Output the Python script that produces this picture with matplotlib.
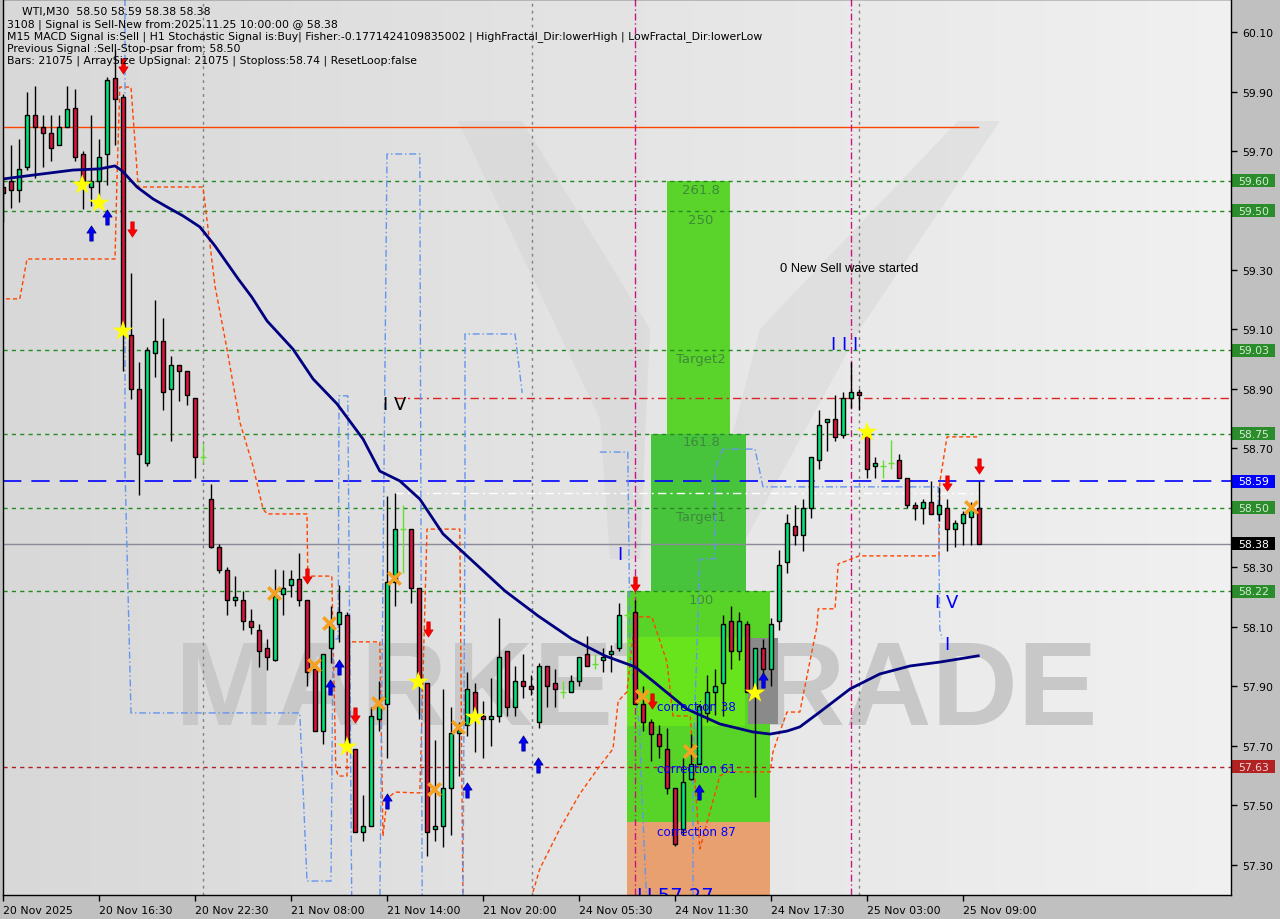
import matplotlib
matplotlib.use('Agg')
import matplotlib.pyplot as plt
import numpy as np
from matplotlib.path import Path
from matplotlib.patches import Rectangle, Polygon

# ---------------- data ----------------
opens = [59.58,59.60,59.57,59.645,59.82,59.78,59.76,59.72,59.78,59.845,59.69,59.58,59.60,59.69,59.945,59.88,59.08,58.90,58.65,59.02,
         59.06,58.90,58.98,58.96,58.87,58.67,58.53,58.37,58.29,58.19,58.19,58.12,58.09,58.03,57.99,58.21,58.24,58.26,58.19,57.96,
         57.75,58.03,58.11,58.14,57.69,57.41,57.43,57.79,57.84,58.25,58.43,58.43,58.23,57.91,57.42,57.43,57.56,57.745,57.77,57.88,
         57.80,57.79,57.80,58.02,57.83,57.92,57.90,57.78,57.97,57.91,57.88,57.88,57.92,58.01,57.975,57.99,58.01,58.03,58.14,58.15,
         57.84,57.78,57.74,57.69,57.56,57.42,57.59,57.64,57.81,57.88,57.91,58.12,58.02,58.11,57.88,58.03,57.96,58.12,58.32,58.44,
         58.41,58.50,58.66,58.79,58.80,58.745,58.87,58.89,58.765,58.64,58.64,58.65,58.66,58.60,58.51,58.50,58.52,58.48,58.50,58.43,
         58.45,58.47,58.50]
highs = [59.67,59.72,59.74,59.90,59.92,59.82,59.82,59.82,59.92,59.91,59.70,59.82,59.74,59.95,60.04,59.89,59.29,58.99,59.04,59.20,
         59.14,59.01,58.98,58.96,58.87,58.72,58.58,58.38,58.30,58.27,58.22,58.16,58.11,58.06,58.295,58.29,58.29,58.35,58.19,57.96,
         58.01,58.17,58.24,58.15,57.69,57.535,57.83,57.92,58.54,58.55,58.51,58.43,58.23,57.91,57.72,57.89,57.83,57.78,57.95,57.91,
         57.85,57.93,58.13,58.02,57.97,58.01,57.94,57.98,57.97,57.96,57.92,57.94,58.00,58.07,58.01,58.03,58.04,58.18,58.15,58.19,
         57.90,57.79,57.77,57.76,57.56,57.66,57.74,57.84,57.94,57.96,58.14,58.17,58.15,58.12,58.03,58.06,58.13,58.36,58.48,58.51,
         58.53,58.67,58.83,58.80,58.88,58.89,58.99,58.90,58.77,58.67,58.66,58.73,58.68,58.60,58.52,58.53,58.59,58.57,58.53,58.46,
         58.49,58.52,58.59]
lows = [59.46,59.51,59.53,59.635,59.61,59.645,59.665,59.72,59.78,59.665,59.505,59.515,59.55,59.585,59.72,58.96,58.865,58.545,58.64,58.94,
        58.83,58.725,58.86,58.845,58.60,58.65,58.365,58.28,58.14,58.17,58.09,58.075,57.965,57.955,57.985,58.14,58.20,58.17,57.90,57.75,
        57.705,57.98,58.05,57.69,57.41,57.38,57.43,57.75,57.66,58.17,58.28,58.18,57.79,57.33,57.38,57.36,57.40,57.60,57.735,57.68,
        57.66,57.70,57.78,57.80,57.80,57.86,57.87,57.76,57.83,57.83,57.86,57.88,57.90,57.97,57.96,57.95,57.95,58.02,58.13,57.84,
        57.75,57.65,57.66,57.54,57.365,57.40,57.585,57.64,57.78,57.805,57.80,57.96,57.99,57.88,57.53,57.91,57.90,58.09,58.28,58.375,
        58.355,58.465,58.63,58.69,58.725,58.735,58.835,58.83,58.60,58.60,58.60,58.63,58.60,58.50,58.46,58.445,58.48,58.455,58.355,58.37,
        58.375,58.375,58.38]
closes = [59.56,59.57,59.64,59.82,59.78,59.76,59.71,59.78,59.84,59.68,59.595,59.60,59.68,59.94,59.875,59.105,58.90,58.68,59.03,59.06,
          58.89,58.98,58.96,58.88,58.67,58.67,58.37,58.29,58.19,58.20,58.12,58.10,58.02,58.00,58.205,58.23,58.26,58.19,57.95,57.75,
          58.01,58.105,58.15,57.70,57.41,57.43,57.80,57.84,58.25,58.43,58.43,58.23,57.91,57.41,57.43,57.56,57.745,57.755,57.89,57.79,
          57.79,57.80,58.00,57.83,57.92,57.90,57.89,57.97,57.90,57.89,57.88,57.92,58.00,57.97,57.975,58.00,58.02,58.14,58.14,57.84,
          57.78,57.74,57.70,57.56,57.37,57.58,57.64,57.835,57.88,57.90,58.11,58.02,58.12,57.88,58.03,57.96,58.11,58.31,58.45,58.41,
          58.50,58.67,58.78,58.80,58.74,58.87,58.89,58.88,58.63,58.65,58.64,58.65,58.60,58.51,58.50,58.52,58.48,58.51,58.43,58.45,
          58.48,58.50,58.38]

time_labels = ["20 Nov 2025", "20 Nov 16:30", "20 Nov 22:30", "21 Nov 08:00", "21 Nov 14:00", "21 Nov 20:00",
               "24 Nov 05:30", "24 Nov 11:30", "24 Nov 17:30", "25 Nov 03:00", "25 Nov 09:00"]
price_ticks = [60.10, 59.90, 59.70, 59.30, 59.10, 58.90, 58.70, 58.30, 58.10, 57.90, 57.70, 57.50, 57.30]

# moving average (bar index, price)
ma_x = [0,3.75,8.75,12.1,14,14.9,16.75,18.75,20.5,22.5,24.6,26.5,29.4,31.1,33,36.25,38.75,41.75,45,47.1,49.6,52.1,55,57.75,
        62.75,66.9,71.1,75.25,79,81.25,85.5,89.6,93.75,95.9,98,99.6,102.1,105.9,109.6,113.4,117.1,121.9]
ma_y = [59.606,59.619,59.636,59.640,59.650,59.633,59.579,59.539,59.512,59.482,59.445,59.381,59.270,59.209,59.129,59.034,58.934,
        58.850,58.732,58.624,58.591,58.530,58.413,58.345,58.221,58.137,58.060,58.003,57.966,57.918,57.824,57.774,57.747,57.740,
        57.750,57.764,57.814,57.892,57.942,57.969,57.982,58.003]

# stop / psar step line (orange dashed)
sar1_x = [-1,2.1,3,14,14.25,14.6,16,16.9,25,26.5,28,29.6,31.25,32.5,33,38,38.1,41.1,41.6,41.9,43,43.1,47.1,47.5,48,49,52.1,53,57.1,57.5]
sar1_y = [59.203,59.203,59.337,59.337,59.606,59.915,59.915,59.579,59.579,59.246,59.034,58.789,58.641,58.497,58.480,58.480,58.271,
          58.271,57.623,57.599,57.599,58.050,58.050,57.397,57.522,57.545,57.542,58.429,58.429,57.15]
sar2_x = [66.25,67.1,69.6,72.1,74.6,76.25,76.9,78,79,81.1,83,83.75,85.9,87.1,89.6,90.5,95.9,96.25,97.1,98,99.6,101.75,101.9,104,
          104.4,106.1,107,117,117.1,118,121.9]
sar2_y = [57.209,57.287,57.421,57.539,57.633,57.690,57.851,57.882,58.134,58.134,57.982,57.801,57.801,57.354,57.599,57.613,57.613,
          57.680,57.747,57.814,57.814,58.103,58.161,58.161,58.312,58.329,58.339,58.339,58.587,58.739,58.739]

# envelope lines (light blue dash-dot)
env1_x = [15.25,15.25,16,37.1,38,41,41.25,41.9,42,43.1,43.6]
env1_y = [60.25,58.631,57.811,57.811,57.246,57.246,58.060,58.060,58.877,58.877,57.15]
env2_x = [47.1,48,52.1,52.4]
env2_y = [57.15,59.690,59.690,57.15]
env3_x = [57.5,57.75,57.75,64,64.9]
env3_y = [57.15,58.497,59.085,59.085,58.887]
env4_x = [74.6,78.1,78.4,79.6,79.9,80.5]
env4_y = [58.688,58.688,57.992,57.757,57.512,57.15]
env5_x = [86.25,86.25,87.1,89,89,90,94,95,116.9,117.1,117.4]
env5_y = [57.15,57.633,58.329,58.329,58.631,58.698,58.698,58.571,58.571,58.093,58.06]

# signal markers
buy_x = [11,13,40.9,42,48,58,65,66.9,87,95]
buy_y = [59.424,59.478,57.898,57.966,57.515,57.552,57.710,57.636,57.545,57.922]
sell_x = [15,16.1,38,44,53.1,79,81.1,118,122]
sell_y = [59.986,59.438,58.271,57.804,58.093,58.245,57.851,58.584,58.641]
star_x = [9.9,12,15,43,51.9,59,94,108]
star_y = [59.586,59.525,59.095,57.697,57.915,57.797,57.878,58.755]
cross_x = [33.9,38.9,40.75,46.9,48.9,53.9,56.9,79.9,85.9,121]
cross_y = [58.214,57.972,58.113,57.845,58.265,57.555,57.763,57.868,57.683,58.503]

green_levels = [59.60, 59.50, 59.03, 58.75, 58.50, 58.22]
red_level = 57.63
orange_level = 59.78
blue_level = 58.59
bid_level = 58.38
dashdot_level = 58.87
white_level = 58.55

# fibo zones (x0, x1, top, bottom)
zone_top = (83, 90.9, 59.60, 58.75)
zone_mid = (81, 92.9, 58.75, 58.22)
zone_low = (78, 95.9, 58.22, 57.445)
zone_low_hi = (78, 92.75, 58.066, 57.767)
zone_grey = (93.1, 96.9, 58.063, 57.774)
zone_corr = (78, 95.9, 57.445, 57.10)
fib_labels = ["261.8", "250", "Target2", "161.8", "Target1", "100"]
fib_label_y = [59.572, 59.471, 59.001, 58.722, 58.470, 58.194]
corr_labels = ["correction 38", "correction 61", "correction 87"]
corr_label_y = [57.834, 57.623, 57.414]

axis_boxes = [(59.60, '#2a8c2a', '#d4ecd4'), (59.50, '#2a8c2a', '#d4ecd4'), (59.03, '#2a8c2a', '#d4ecd4'),
              (58.75, '#2a8c2a', '#d4ecd4'), (58.59, '#0000ff', '#ffffff'), (58.50, '#2a8c2a', '#d4ecd4'),
              (58.38, '#000000', '#ffffff'), (58.22, '#2a8c2a', '#d4ecd4'), (57.63, '#b22222', '#f0d8d8')]

header = ["WTI,M30  58.50 58.59 58.38 58.38",
          "3108 | Signal is Sell-New from:2025.11.25 10:00:00 @ 58.38",
          "M15 MACD Signal is:Sell | H1 Stochastic Signal is:Buy| Fisher:-0.1771424109835002 | HighFractal_Dir:lowerHigh | LowFractal_Dir:lowerLow",
          "Previous Signal :Sell-Stop-psar from: 58.50",
          "Bars: 21075 | ArraySize UpSignal: 21075 | Stoploss:58.74 | ResetLoop:false"]

# ---------------- figure ----------------
W, H = 1280, 920
L_PX, R_PX, B_PX = 2.5, 1231, 896
fig = plt.figure(figsize=(W/100, H/100), dpi=100, facecolor='#c0c0c0')
ax = fig.add_axes([L_PX/W, (H-B_PX)/H, (R_PX-L_PX)/W, B_PX/H])
XMIN, XMAX = -0.0625, 153.5
YMIN, YMAX = 57.199, 60.211

# background gradient
grad = np.linspace(0.845, 0.94, 256)[None, :]
grad = np.repeat(grad, 2, axis=0)
ax.imshow(grad, extent=[XMIN, XMAX, YMIN, YMAX], aspect='auto', cmap='gray', vmin=0, vmax=1,
          zorder=0, interpolation='bilinear')
ax.set_xlim(XMIN, XMAX)
ax.set_ylim(YMIN, YMAX)

def axp(px, py):
    return ((px - L_PX) / (R_PX - L_PX), 1 - py / B_PX)

# faint M logo
logo_polys = [
    [(458,122),(522,122),(650,330),(640,560),(610,560),(600,420)],
    [(1000,122),(958,122),(760,330),(700,560),(735,560),(860,330)],
]
for poly in logo_polys:
    ax.add_patch(Polygon([axp(*p) for p in poly], closed=True, transform=ax.transAxes,
                         fc='#c8c8c8', ec='none', alpha=0.28, zorder=0.5))

# watermark text
ax.text(axp(175, 725)[0], axp(175, 725)[1], "MARKETTRADE", transform=ax.transAxes, fontsize=86,
        family='Liberation Sans', weight='bold', color='#c8c8c8', ha='left', va='baseline', zorder=0.6)

# fibo zones
def zone(z, color, zo=1):
    x0, x1, t, b = z
    ax.add_patch(Rectangle((x0, b), x1 - x0, t - b, fc=color, ec='none', zorder=zo))
zone(zone_top, '#5ad42a')
zone(zone_mid, '#48c43c')
zone(zone_low, '#58d428')
zone(zone_low_hi, '#68e41c', 1.1)
zone(zone_grey, '#8a8a8a', 1.2)
zone(zone_corr, '#e8a070')

for t, yv in zip(fib_labels, fib_label_y):
    ax.text(87.25, yv, t, color='#3c8a3c', fontsize=9.5, ha='center', va='center', zorder=1.5)
for t, yv in zip(corr_labels, corr_label_y):
    ax.text(81.75, yv, t, color='#0000ff', fontsize=8.6, ha='left', va='center', zorder=9)
ll = ax.text(79.2, 57.229, "LL57.27", color='#0000ff', fontsize=14, ha='left', va='top', zorder=9)
ll.set_clip_on(True)
ll.set_clip_box(ax.bbox)

# level lines
for lv in green_levels:
    ax.axhline(lv, color='#228b22', lw=1, ls=(0, (3, 3)), zorder=2)
ax.axhline(red_level, color='#b22222', lw=1, ls=(0, (3, 3)), zorder=2)
ax.plot([XMIN, 121.9], [orange_level]*2, color='#ff4500', lw=1, zorder=2)
ax.axhline(blue_level, color='#0000ff', lw=1.2, ls=(0, (11, 6)), zorder=2)
ax.axhline(bid_level, color='#8a8a9a', lw=1, zorder=2)
ax.plot([49, XMAX], [dashdot_level]*2, color='#dd2222', lw=1, ls=(0, (6, 3, 1.5, 3)), zorder=2)
ax.plot([49, 121.9], [white_level]*2, color='#ffffff', lw=1, ls=(0, (6, 3, 1.5, 3)), zorder=2)

# separators
for xv in [25, 66.1, 107]:
    ax.axvline(xv, color='#808080', lw=1, ls=(0, (2, 3)), zorder=2)
for xv in [79, 106]:
    ax.axvline(xv, color='#c71585', lw=1, ls=(0, (5, 2, 1, 2)), zorder=2)

# indicator lines
ax.plot(sar1_x, sar1_y, color='#ff4500', lw=1, ls=(0, (3, 2)), zorder=3)
ax.plot(sar2_x, sar2_y, color='#ff4500', lw=1, ls=(0, (3, 2)), zorder=3)
for ex, ey in [(env1_x, env1_y), (env2_x, env2_y), (env3_x, env3_y), (env4_x, env4_y), (env5_x, env5_y)]:
    ax.plot(ex, ey, color='#6495ed', lw=1, ls=(0, (5, 2, 1, 2)), zorder=3)

# candles
o, h, l, c = map(np.array, (opens, highs, lows, closes))
x = np.arange(len(o))
doji = np.isclose(o, c)
bull = (c > o) & ~doji
bear = (c < o) & ~doji
ax.vlines(x[~doji], l[~doji], h[~doji], color='black', lw=1, zorder=5)
minh = 0.008
bh = np.where(np.abs(c - o) < minh, np.sign(c - o) * minh, c - o)
ax.bar(x[bull], bh[bull], bottom=o[bull], width=0.62, color='#00e676', edgecolor='black', lw=1, zorder=6)
ax.bar(x[bear], bh[bear], bottom=o[bear], width=0.62, color='#dc143c', edgecolor='black', lw=1, zorder=6)
ax.vlines(x[doji], l[doji], h[doji], color='#66dd33', lw=1, zorder=6)
ax.hlines(o[doji], x[doji] - 0.35, x[doji] + 0.35, color='#66dd33', lw=1, zorder=6)

# moving average
ax.plot(ma_x, ma_y, color='#000080', lw=2, zorder=7, solid_joinstyle='round')

# markers
up = Path([(-0.55, 0.05), (0, 0.9), (0.55, 0.05), (0.2, 0.05), (0.2, -0.9), (-0.2, -0.9), (-0.2, 0.05), (-0.55, 0.05)],
          [Path.MOVETO] + [Path.LINETO] * 6 + [Path.CLOSEPOLY])
down = Path([(vx, -vy) for vx, vy in up.vertices], up.codes)
ax.scatter(buy_x, buy_y, marker=up, s=120, color='#0000ff', edgecolors='#000080', linewidths=0.5, zorder=8)
ax.scatter(sell_x, sell_y, marker=down, s=120, color='#ff0000', edgecolors='#cc0000', linewidths=0.5, zorder=8)
ax.scatter(star_x, star_y, marker='*', s=240, color='#ffff00', edgecolors='none', zorder=8)
ax.scatter(cross_x, cross_y, marker='x', s=80, color='#f5a020', linewidths=2.6, zorder=8)

# wave labels
ax.text(49, 58.85, "I V", color='black', fontsize=13, ha='center', va='center', zorder=9)
ax.text(77.1, 58.345, "I", color='#0000ff', fontsize=13, ha='center', va='center', zorder=9)
ax.text(105.25, 59.051, "I I I", color='#0000ff', fontsize=13, ha='center', va='center', zorder=9)
ax.text(118, 58.184, "I V", color='#0000ff', fontsize=13, ha='center', va='center', zorder=9)
ax.text(118, 58.043, "I", color='#0000ff', fontsize=13, ha='center', va='center', zorder=9)
ax.text(97.1, 59.307, "0 New Sell wave started", color='black', fontsize=9.3, family='Liberation Sans',
        ha='left', va='center', zorder=9)

# axes styling
for s in ax.spines.values():
    s.set_color('black')
    s.set_linewidth(1)
    s.set_zorder(12)
ax.yaxis.tick_right()
ax.set_yticks(price_ticks)
ax.set_yticklabels([f"{p:.2f}" for p in price_ticks])
ax.set_xticks(list(range(0, 121, 12)))
ax.set_xticklabels(time_labels)
for lab in ax.get_xticklabels():
    lab.set_horizontalalignment('left')
ax.tick_params(axis='both', colors='black', labelsize=7.8, length=4, width=1, direction='out', pad=2)
ax.tick_params(axis='y', pad=4)
ax.tick_params(axis='x', pad=3)

# axis price boxes
ytr = ax.get_yaxis_transform()
bw = 43 / (R_PX - L_PX)
bhp = 13 / 297.5
for pv, fc, tc in axis_boxes:
    ax.add_patch(Rectangle((1.0008, pv - bhp / 2), bw, bhp, transform=ytr, fc=fc, ec='none', clip_on=False, zorder=10))
    ax.text(1.0008 + bw / 2, pv, f"{pv:.2f}", transform=ytr, color=tc, fontsize=7.8, ha='center', va='center',
            clip_on=False, zorder=11)

# header
hy = [12, 25, 37, 49, 61]
hx = [22, 7, 7, 7, 7]
for t, yy, xx in zip(header, hy, hx):
    fig.text(xx / W, 1 - yy / H, t, fontsize=7.8, color='black', ha='left', va='center')

fig.savefig('out.png', dpi=100, facecolor=fig.get_facecolor())
